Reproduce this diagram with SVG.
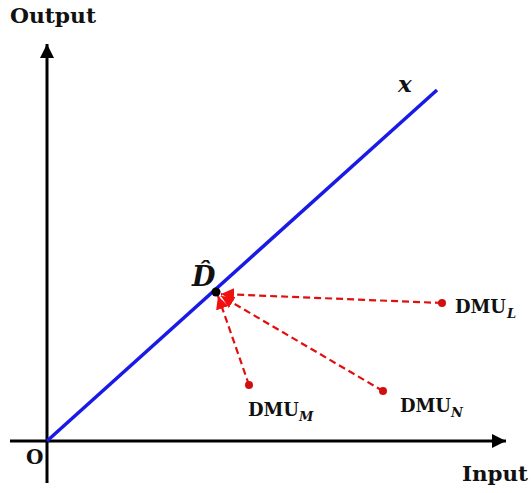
<svg xmlns="http://www.w3.org/2000/svg" width="532" height="493" viewBox="0 0 532 493">
<defs>
<style>
.lbl{font-family:"DejaVu Serif","Liberation Serif",serif;font-weight:bold;fill:#111}
.it{font-style:italic}
.axis{stroke:#000;stroke-width:3;fill:none}
.conn{stroke:#e01010;stroke-width:2.2;stroke-dasharray:7,4;fill:none}
</style>
<marker id="ah" viewBox="0 0 10 10" refX="10" refY="5" markerWidth="14" markerHeight="14" markerUnits="userSpaceOnUse" orient="auto"><path d="M0,0 L10,5 L0,10 Z" fill="#000"/></marker>
<marker id="rh" viewBox="0 0 10 10" refX="10" refY="5" markerWidth="13" markerHeight="13" markerUnits="userSpaceOnUse" orient="auto"><path d="M0,0 L10,5 L0,10 Z" fill="#f01010"/></marker>
</defs>
<rect width="532" height="493" fill="#fff"/>
<g id="axes">
<line class="axis" x1="47" y1="483" x2="47" y2="44" marker-end="url(#ah)"/>
<line class="axis" x1="10" y1="441" x2="506" y2="441" marker-end="url(#ah)"/>
<text class="lbl" x="10" y="23" font-size="21" textLength="86" lengthAdjust="spacingAndGlyphs">Output</text>
<text class="lbl" x="462" y="481" font-size="21" textLength="66" lengthAdjust="spacingAndGlyphs">Input</text>
<text class="lbl" x="26" y="464" font-size="20">O</text>
</g>
<g id="frontier">
<line x1="47" y1="441" x2="437" y2="90" stroke="#1a1ae6" stroke-width="3.5"/>
<text class="lbl it" x="398" y="92" font-size="23">x</text>
</g>
<g id="connectors">
<line class="conn" x1="442" y1="303" x2="221" y2="294" marker-end="url(#rh)"/>
<line class="conn" x1="249" y1="385" x2="218" y2="296" marker-end="url(#rh)"/>
<line class="conn" x1="383" y1="391" x2="221" y2="296" marker-end="url(#rh)"/>
</g>
<g id="D">
<circle cx="216" cy="292" r="4.5" fill="#000"/>
<text class="lbl it" x="192" y="286" font-size="27">D̂</text>
</g>
<g id="DMU_L">
<circle cx="442" cy="303" r="4" fill="#d01010"/>
<text class="lbl" x="455" y="313" font-size="18" textLength="51" lengthAdjust="spacingAndGlyphs">DMU</text>
<text class="lbl it" x="507" y="318" font-size="13">L</text>
</g>
<g id="DMU_M">
<circle cx="249" cy="385" r="4" fill="#d01010"/>
<text class="lbl" x="248" y="416" font-size="18" textLength="51" lengthAdjust="spacingAndGlyphs">DMU</text>
<text class="lbl it" x="299" y="421" font-size="13">M</text>
</g>
<g id="DMU_N">
<circle cx="383" cy="391" r="4" fill="#d01010"/>
<text class="lbl" x="400" y="412" font-size="18" textLength="51" lengthAdjust="spacingAndGlyphs">DMU</text>
<text class="lbl it" x="451" y="417" font-size="13">N</text>
</g>
</svg>
